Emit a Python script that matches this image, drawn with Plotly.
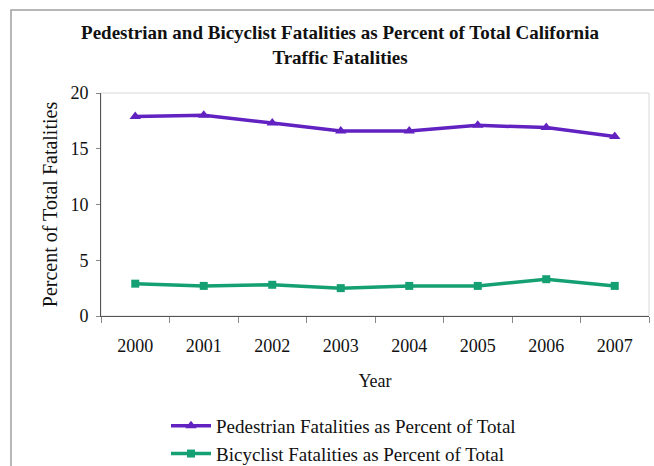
import plotly.graph_objects as go

years = ["2000", "2001", "2002", "2003", "2004", "2005", "2006", "2007"]
pedestrian = [17.9, 18.0, 17.3, 16.6, 16.6, 17.1, 16.9, 16.1]
bicyclist = [2.9, 2.7, 2.8, 2.5, 2.7, 2.7, 3.3, 2.7]
y_ticks = [0, 5, 10, 15, 20]

W, H = 654, 466
L, R, T, B = 101, 5, 93, 150
FONT = "Liberation Serif"

fig = go.Figure()
fig.add_trace(go.Scatter(
    x=years, y=pedestrian, mode="lines+markers",
    name="Pedestrian Fatalities as Percent of Total",
    line=dict(color="#6222C2", width=3.5),
    marker=dict(symbol="triangle-up", size=10, color="#6222C2"),
))
fig.add_trace(go.Scatter(
    x=years, y=bicyclist, mode="lines+markers",
    name="Bicyclist Fatalities as Percent of Total",
    line=dict(color="#14A072", width=3.5),
    marker=dict(symbol="square", size=8, color="#14A072"),
))

pw = W - L - R
ph = H - T - B
def px_x(x):
    return (x - L) / pw
def px_y(y):
    return (H - B - y) / ph

# outer frame (extends past right and bottom edges)
fig.add_shape(type="rect", xref="paper", yref="paper",
              x0=px_x(11), x1=px_x(W + 10), y0=px_y(H + 10), y1=px_y(10),
              line=dict(color="#A0A0A0", width=1.5), layer="below")
# light plot box (top, right)
fig.add_shape(type="rect", xref="paper", yref="paper",
              x0=0, x1=1, y0=0, y1=1,
              line=dict(color="#D8D8D8", width=1), layer="below")

fig.update_layout(
    width=W, height=H,
    margin=dict(l=L, r=R, t=T, b=B, autoexpand=False),
    paper_bgcolor="white", plot_bgcolor="white",
    font=dict(family=FONT, color="#111111", size=18),
    title=dict(
        text="<b>Pedestrian and Bicyclist Fatalities as Percent of Total California<br>Traffic Fatalities</b>",
        x=340 / W, xref="container", xanchor="center", y=1 - 39 / H, yanchor="top",
        font=dict(family=FONT, size=19, color="#111111"),
    ),
    showlegend=True,
    legend=dict(
        x=px_x(166), y=px_y(407), xanchor="left", yanchor="top",
        font=dict(family=FONT, size=19, color="#111111"),
        bgcolor="rgba(0,0,0,0)", tracegroupgap=0, itemwidth=40,
    ),
    xaxis=dict(
        type="category", categoryorder="array", categoryarray=years,
        range=[-0.5, 7.5], showline=True, linecolor="#555555", linewidth=1,
        ticks="outside", tickson="boundaries", ticklen=6, tickcolor="#888888",
        showgrid=False, zeroline=False, ticklabelstandoff=13,
        tickfont=dict(family=FONT, size=18),
        title=dict(text="Year", font=dict(family=FONT, size=18), standoff=19),
    ),
    yaxis=dict(
        range=[0, 20], tickvals=y_ticks, showline=True, linecolor="#555555",
        linewidth=1, ticks="outside", ticklen=4, tickcolor="#888888",
        showgrid=False, zeroline=False, ticklabelstandoff=4,
        tickfont=dict(family=FONT, size=18),
        title=dict(text="Percent of Total Fatalities", font=dict(family=FONT, size=20), standoff=7),
    ),
)

fig.write_html(
    "out.html",
    config={"displayModeBar": False},
    post_script="document.body.style.margin='0';document.body.style.overflow='hidden';",
)
